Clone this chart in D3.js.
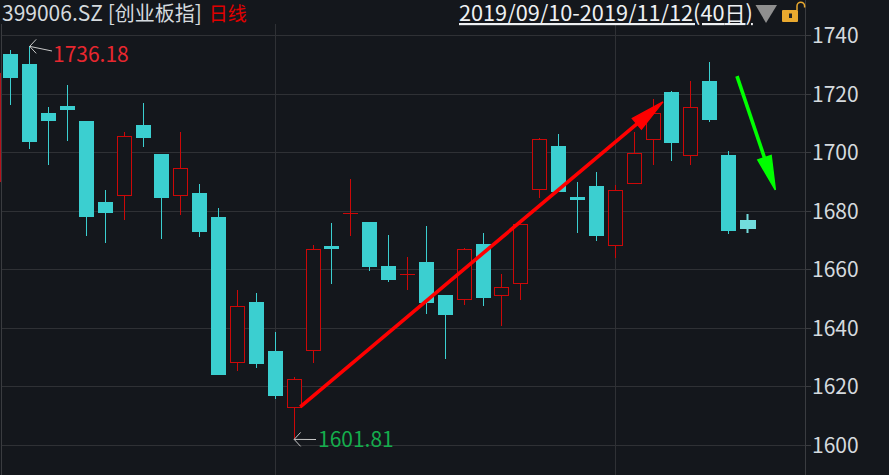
<!DOCTYPE html>
<html lang="zh">
<head>
  <meta charset="UTF-8">
  <title>399006.SZ</title>
  <script src="https://cdn.jsdelivr.net/npm/d3@7"></script>
  <style>
    html, body { margin: 0; padding: 0; background: #14171c; overflow: hidden; }
    svg { display: block; }
    text { font-family: "Noto Sans CJK SC", "Noto Sans", sans-serif; }
  </style>
</head>
<body>
  <script>
    // index of each trading day is its position in the arrays (40 days)
    const opens = [1733.6,1730.2,1713.4,1715.8,1710.7,1683.0,1685.4,1709.3,1699.4,1685.4,
      1686.1,1677.8,1628.3,1648.8,1632.0,1612.9,1632.4,1667.9,1679.2,1676.1,
      1661.1,1658.4,1662.5,1651.2,1649.8,1668.6,1651.2,1655.3,1687.4,1702.1,
      1684.8,1688.4,1668.3,1689.5,1704.5,1720.6,1699.0,1724.3,1699.0,1676.8];
    const closes = [1725.4,1703.5,1710.7,1714.4,1677.8,1679.2,1705.5,1704.9,1684.3,1694.6,
      1672.7,1623.8,1647.4,1627.6,1616.7,1622.5,1666.9,1666.9,1679.2,1660.8,
      1656.3,1658.4,1648.4,1644.3,1666.9,1650.2,1653.9,1675.5,1704.5,1686.4,
      1683.8,1671.4,1687.1,1699.7,1713.4,1703.1,1715.5,1711.0,1673.1,1673.7];
    const highs = [1734.9,1736.18,1715.5,1723.0,1710.7,1687.1,1706.9,1716.8,1699.4,1706.9,
      1689.1,1680.9,1652.9,1651.9,1638.5,1623.1,1668.3,1675.8,1690.8,1676.1,
      1671.7,1664.2,1674.8,1651.2,1667.2,1672.4,1658.4,1675.5,1704.9,1706.2,
      1689.8,1693.2,1688.8,1706.9,1718.2,1720.9,1724.3,1730.8,1700.4,1678.9];
    const lows = [1716.1,1701.1,1695.6,1703.8,1671.4,1669.0,1676.8,1701.8,1670.3,1678.5,
      1671.0,1623.8,1625.2,1626.2,1615.6,1601.81,1627.9,1654.9,1671.4,1659.4,
      1655.6,1652.9,1644.7,1629.3,1647.8,1647.4,1640.6,1649.5,1684.3,1686.4,
      1672.4,1669.6,1663.8,1689.5,1695.6,1697.0,1695.6,1710.3,1672.0,1672.4];
    // body of the day before the window, only its edge is in view
    const prevBody = [1689.8, 1727.1];
    const yTicks = [1600,1620,1640,1660,1680,1700,1720,1740];
    const gridDays = [14, 32];
    // hand drawn trend arrows, [day, price] pairs
    const upArrow = [[15.35,1612.9],[34.55,1717.2]];
    const downArrow = [[38.47,1726.0],[40.5,1687.1]];

    const w = 889, h = 475;
    const bg = "#14171c", colUp = "#cc0808", colDown = "#3bcfd0", colLast = "#72dcdc",
      colGrid = "#2f3135", colAxis = "#3a3c40", colText = "#d5dade";

    const x = d3.scaleLinear().domain([0, 39]).range([10.3, 747]);
    const y = d3.scaleLinear().domain([1600, 1740]).range([444.7, 35.2]);

    const svg = d3.select("body").append("svg").attr("width", w).attr("height", h);
    const plotRight = 805, plotLeft = 1.5, plotTop = 24;

    const crisp = v => Math.round(v) + 0.5;

    // grid
    svg.append("g").selectAll("line").data(yTicks).enter().append("line")
      .attr("x1", plotLeft).attr("x2", plotRight)
      .attr("y1", d => crisp(y(d))).attr("y2", d => crisp(y(d)))
      .attr("stroke", colGrid);
    svg.append("g").selectAll("line").data(gridDays).enter().append("line")
      .attr("x1", d => crisp(x(d))).attr("x2", d => crisp(x(d)))
      .attr("y1", plotTop).attr("y2", h)
      .attr("stroke", colGrid);
    svg.append("rect").attr("x", 0).attr("width", 1.5)
      .attr("y", y(prevBody[1])).attr("height", y(prevBody[0]) - y(prevBody[1]))
      .attr("fill", "#b5121b");
    svg.append("line").attr("x1", plotLeft).attr("x2", plotLeft).attr("y1", plotTop).attr("y2", h).attr("stroke", colAxis);

    // right axis
    const yAxis = d3.axisRight(y).tickValues(yTicks).tickFormat(d3.format("d")).tickSize(6).tickPadding(1);
    const axisG = svg.append("g").attr("transform", "translate(" + plotRight + ",0)").call(yAxis);
    axisG.select(".domain").attr("stroke", colAxis).attr("d", "M0.5,0V" + h);
    axisG.selectAll(".tick").attr("transform", d => "translate(0," + crisp(y(d)) + ")");
    axisG.selectAll(".tick line").attr("stroke", colAxis);
    axisG.selectAll(".tick text").attr("fill", colText).attr("font-size", 21).attr("dy", "0.36em")
      .style("font-family", '"Noto Sans CJK SC", "Noto Sans", sans-serif');

    // candles
    const days = d3.range(opens.length);
    const candles = svg.append("g").selectAll("g").data(days).enter().append("g");
    const isUp = i => closes[i] >= opens[i];
    const cx = i => crisp(x(i));
    const col = i => i === 39 ? colLast : (isUp(i) ? colUp : colDown);

    candles.append("line")
      .attr("x1", cx).attr("x2", cx)
      .attr("y1", i => Math.round(y(highs[i]))).attr("y2", i => Math.round(y(lows[i])))
      .attr("stroke", col).attr("stroke-width", i => i === 39 ? 2 : 1);

    // hollow up days, filled down days
    candles.filter(i => isUp(i) && closes[i] > opens[i]).append("rect")
      .attr("x", i => cx(i) - 7).attr("width", 14)
      .attr("y", i => crisp(y(closes[i])))
      .attr("height", i => crisp(y(opens[i])) - crisp(y(closes[i])))
      .attr("fill", bg).attr("stroke", colUp);
    candles.filter(i => !isUp(i)).append("rect")
      .attr("x", i => cx(i) - 7.5).attr("width", i => i === 39 ? 16 : 15)
      .attr("y", i => Math.round(y(opens[i])))
      .attr("height", i => Math.round(y(closes[i])) - Math.round(y(opens[i])))
      .attr("fill", col);
    // flat days are just a tick
    candles.filter(i => closes[i] === opens[i]).append("line")
      .attr("x1", i => cx(i) - 7.5).attr("x2", i => cx(i) + 7.5)
      .attr("y1", i => crisp(y(closes[i]))).attr("y2", i => crisp(y(closes[i])))
      .attr("stroke", colUp);

    // trend arrows
    function arrow(pts, color) {
      const x1 = x(pts[0][0]), y1 = y(pts[0][1]), x2 = x(pts[1][0]), y2 = y(pts[1][1]);
      const len = Math.hypot(x2 - x1, y2 - y1), ux = (x2 - x1) / len, uy = (y2 - y1) / len;
      const headLen = 34, headW = 7;
      const bx = x2 - ux * headLen, by = y2 - uy * headLen;
      svg.append("line").attr("x1", x1).attr("y1", y1).attr("x2", bx).attr("y2", by)
        .attr("stroke", color).attr("stroke-width", 3.6);
      svg.append("path")
        .attr("d", d3.line()([[x2, y2], [bx - uy * headW, by + ux * headW], [bx + uy * headW, by - ux * headW]]) + "Z")
        .attr("fill", color).attr("stroke", color).attr("stroke-width", 1.5);
    }
    arrow(upArrow, "#ff0000");
    arrow(downArrow, "#00ff00");

    // high / low labels
    function extreme(day, val, label, color, lx, ly, tx, ty) {
      const px = x(day), py = y(val);
      svg.append("path").attr("fill", "none").attr("stroke", "#c8c8c8")
        .attr("d", "M" + (px + 7) + "," + (py - 7) + "L" + (px + 0.5) + "," + py + "L" + (px + 7) + "," + (py + 7) + "M" + (px + 0.5) + "," + py + "L" + lx + "," + ly);
      svg.append("text").attr("x", tx).attr("y", ty).attr("fill", color).attr("font-size", 21).text(label);
    }
    extreme(1, 1736.18, "1736.18", "#e8272f", 52, 51, 53, 62);
    extreme(15, 1601.81, "1601.81", "#14ad4c", 316, 439.5, 318, 447);

    // header
    const title = svg.append("text").attr("x", 2).attr("y", 21).attr("font-size", 21);
    title.append("tspan").attr("fill", colText).text("399006.SZ [");
    title.append("tspan").attr("fill", colText).attr("font-size", 20).text("创业板指");
    title.append("tspan").attr("fill", colText).text("]");
    title.append("tspan").attr("fill", "#e00000").attr("font-size", 19).attr("dx", 7).text("日线");
    const range = svg.append("text").attr("x", 459).attr("y", 21).attr("font-size", 21.7).attr("fill", "#eef0f2")
      .attr("text-decoration", "underline");
    range.append("tspan").text("2019/09/10-2019/11/12(40");
    range.append("tspan").attr("font-size", 21).text("日");
    range.append("tspan").text(")");
    svg.append("path").attr("d", "M755.5,5H777L766,23Z").attr("fill", "#8f8f8f");
    // lock
    svg.append("rect").attr("x", 782).attr("y", 10).attr("width", 16).attr("height", 12).attr("rx", 1).attr("fill", "#e9a92f");
    svg.append("rect").attr("x", 789).attr("y", 13.5).attr("width", 3).attr("height", 4.5).attr("fill", "#222");
    svg.append("path").attr("d", "M797,10V6A3.8,3.8 0 0 1 804.6,6V7.5").attr("fill", "none").attr("stroke", "#e9a92f").attr("stroke-width", 1.5);
  </script>
</body>
</html>
